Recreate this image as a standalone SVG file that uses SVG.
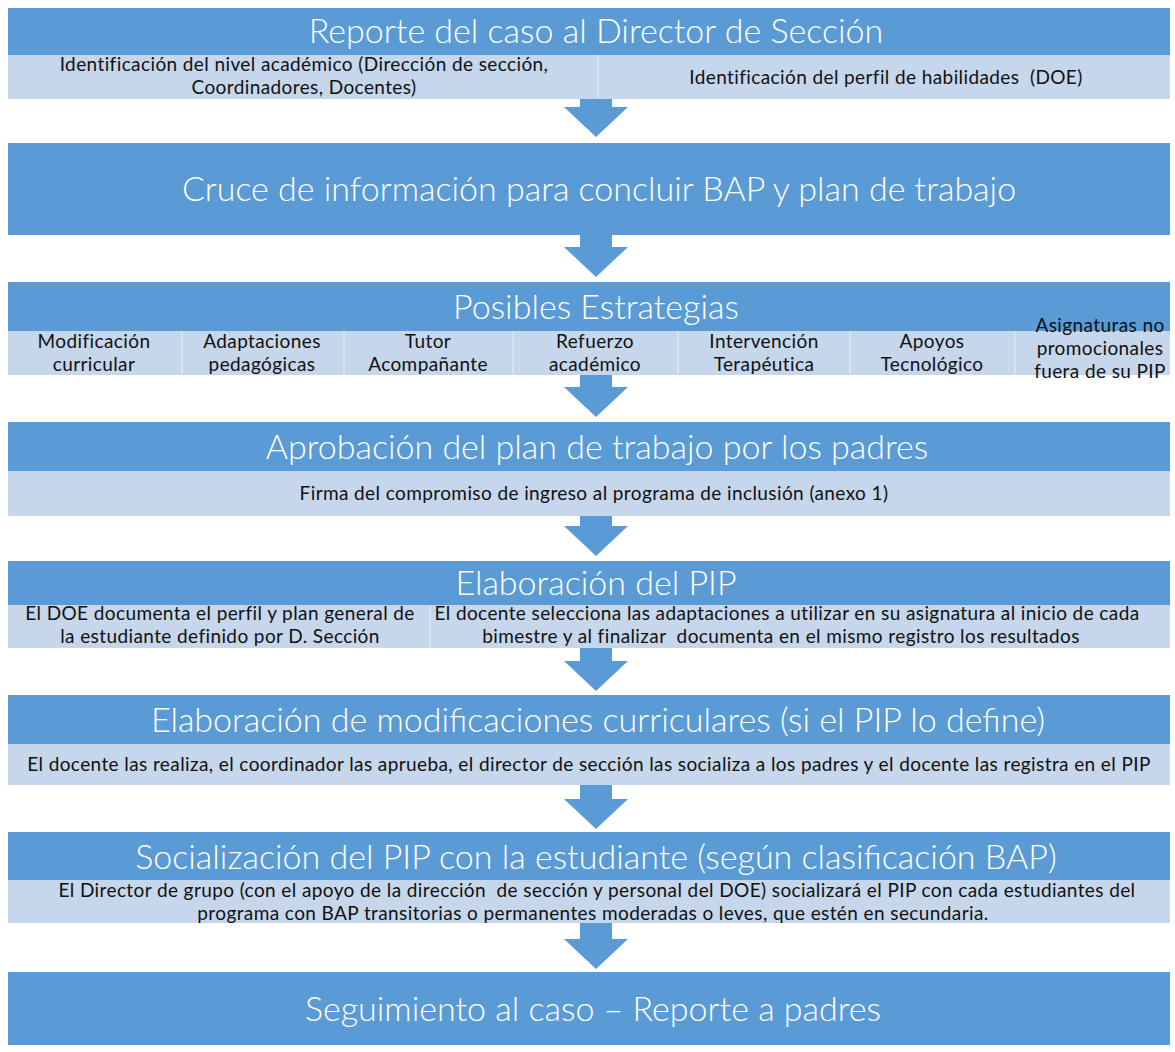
<svg xmlns="http://www.w3.org/2000/svg" width="1175" height="1052" viewBox="0 0 1175 1052">
<style>
.band{fill:#5B9BD5}
.sub{fill:#C6D6EB}
.div{stroke:#DCE6F3;stroke-width:1.5}
.title{font-family:Lato,"Liberation Sans",sans-serif;font-size:34px;font-weight:300;fill:#FFFFFF;text-anchor:middle}
.txt{font-family:Lato,"Liberation Sans",sans-serif;font-size:19px;letter-spacing:0.4px;fill:#111111;text-anchor:middle}
.arrow{fill:#5B9BD5}
</style>
<rect width="1175" height="1052" fill="#FFFFFF"/>
<g id="connectors">
<path class="arrow" d="M580,99 H612 V107 H628 L596,137 L564,107 H580 Z"/>
<path class="arrow" d="M580,235 H612 V247 H628 L596,277 L564,247 H580 Z"/>
<path class="arrow" d="M580,375 H612 V387 H628 L596,417 L564,387 H580 Z"/>
<path class="arrow" d="M580,516 H612 V526 H628 L596,556 L564,526 H580 Z"/>
<path class="arrow" d="M580,648 H612 V661 H628 L596,691 L564,661 H580 Z"/>
<path class="arrow" d="M580,785 H612 V799 H628 L596,829 L564,799 H580 Z"/>
<path class="arrow" d="M580,923 H612 V939 H628 L596,969 L564,939 H580 Z"/>
</g>
<g id="n1">
<rect class="band" x="8" y="8" width="1162" height="47"/>
<rect class="sub" x="8" y="55" width="1162" height="44"/>
<line class="div" x1="598" y1="55" x2="598" y2="99"/>
<text class="title" x="596" y="43">Reporte del caso al Director de Sección</text>
<text class="txt" y="71"><tspan x="304">Identificación del nivel académico (Dirección de sección,</tspan><tspan x="304" dy="23">Coordinadores, Docentes)</tspan></text>
<text class="txt" x="886" y="84" xml:space="preserve">Identificación del perfil de habilidades  (DOE)</text>
</g>
<g id="n2">
<rect class="band" x="8" y="143" width="1162" height="92"/>
<text class="title" x="599" y="201">Cruce de información para concluir BAP y plan de trabajo</text>
</g>
<g id="n3">
<rect class="band" x="8" y="282" width="1162" height="49"/>
<rect class="sub" x="8" y="331" width="1162" height="44"/>
<line class="div" x1="182" y1="331" x2="182" y2="375"/>
<line class="div" x1="344" y1="331" x2="344" y2="375"/>
<line class="div" x1="513" y1="331" x2="513" y2="375"/>
<line class="div" x1="678" y1="331" x2="678" y2="375"/>
<line class="div" x1="850" y1="331" x2="850" y2="375"/>
<line class="div" x1="1015" y1="331" x2="1015" y2="375"/>
<text class="title" x="596" y="319">Posibles Estrategias</text>
<text class="txt" y="348"><tspan x="94">Modificación</tspan><tspan x="94" dy="23">curricular</tspan></text>
<text class="txt" y="348"><tspan x="262">Adaptaciones</tspan><tspan x="262" dy="23">pedagógicas</tspan></text>
<text class="txt" y="348"><tspan x="428">Tutor</tspan><tspan x="428" dy="23">Acompañante</tspan></text>
<text class="txt" y="348"><tspan x="595">Refuerzo</tspan><tspan x="595" dy="23">académico</tspan></text>
<text class="txt" y="348"><tspan x="764">Intervención</tspan><tspan x="764" dy="23">Terapéutica</tspan></text>
<text class="txt" y="348"><tspan x="932">Apoyos</tspan><tspan x="932" dy="23">Tecnológico</tspan></text>
<text class="txt" y="332"><tspan x="1100">Asignaturas no</tspan><tspan x="1100" dy="23">promocionales</tspan><tspan x="1100" dy="23">fuera de su PIP</tspan></text>
</g>
<g id="n4">
<rect class="band" x="8" y="422" width="1162" height="49"/>
<rect class="sub" x="8" y="471" width="1162" height="45"/>
<text class="title" x="597" y="459">Aprobación del plan de trabajo por los padres</text>
<text class="txt" x="594" y="500">Firma del compromiso de ingreso al programa de inclusión (anexo 1)</text>
</g>
<g id="n5">
<rect class="band" x="8" y="561" width="1162" height="44"/>
<rect class="sub" x="8" y="605" width="1162" height="43"/>
<line class="div" x1="430" y1="605" x2="430" y2="648"/>
<text class="title" x="596" y="595">Elaboración del PIP</text>
<text class="txt" y="620"><tspan x="220">El DOE documenta el perfil y plan general de</tspan><tspan x="220" dy="23">la estudiante definido por D. Sección</tspan></text>
<text class="txt" y="620" xml:space="preserve"><tspan x="787">El docente selecciona las adaptaciones a utilizar en su asignatura al inicio de cada</tspan><tspan x="781" dy="23">bimestre y al finalizar  documenta en el mismo registro los resultados</tspan></text>
</g>
<g id="n6">
<rect class="band" x="8" y="695" width="1162" height="49"/>
<rect class="sub" x="8" y="744" width="1162" height="41"/>
<text class="title" x="598" y="732">Elaboración de modificaciones curriculares (si el PIP lo define)</text>
<text class="txt" x="589" y="771">El docente las realiza, el coordinador las aprueba, el director de sección las socializa a los padres y el docente las registra en el PIP</text>
</g>
<g id="n7">
<rect class="band" x="8" y="832" width="1162" height="48"/>
<rect class="sub" x="8" y="880" width="1162" height="43"/>
<text class="title" x="596" y="869">Socialización del PIP con la estudiante (según clasificación BAP)</text>
<text class="txt" y="897" xml:space="preserve"><tspan x="597">El Director de grupo (con el apoyo de la dirección  de sección y personal del DOE) socializará el PIP con cada estudiantes del</tspan><tspan x="593" dy="23">programa con BAP transitorias o permanentes moderadas o leves, que estén en secundaria.</tspan></text>
</g>
<g id="n8">
<rect class="band" x="8" y="972" width="1162" height="73"/>
<text class="title" x="593" y="1021">Seguimiento al caso – Reporte a padres</text>
</g>
</svg>
